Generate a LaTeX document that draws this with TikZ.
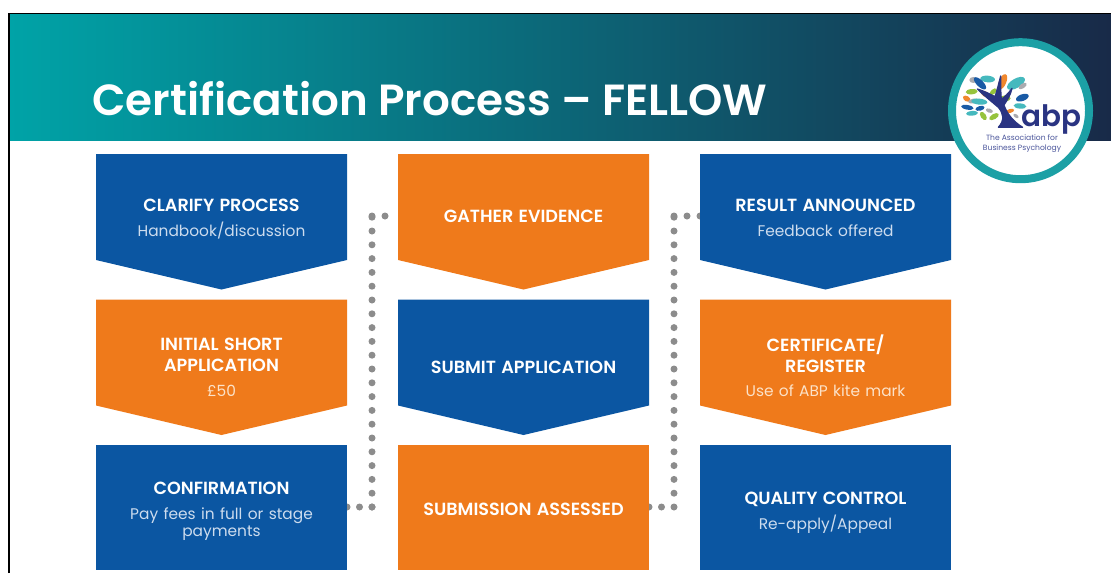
\documentclass[tikz,border=0pt]{standalone}
\usepackage{fontspec}
\setmainfont{Poppins}[BoldFont={Poppins SemiBold}]
\usetikzlibrary{calc}
\definecolor{bluebox}{RGB}{11,86,162}
\definecolor{orangebox}{RGB}{239,122,27}
\definecolor{dotgrey}{RGB}{140,140,140}
\definecolor{subblue}{RGB}{205,220,238}
\definecolor{suborange}{RGB}{252,226,200}
\definecolor{ringteal}{RGB}{28,160,165}
\definecolor{navy}{RGB}{42,52,130}
\definecolor{capblue}{RGB}{75,85,155}
\definecolor{lfteal}{RGB}{70,185,190}
\definecolor{lfblue}{RGB}{25,90,165}
\definecolor{lfgreen}{RGB}{150,195,60}
\definecolor{lforange}{RGB}{240,135,45}
\definecolor{lfgrey}{RGB}{170,170,175}
\pgfdeclarelayer{under}
\pgfsetlayers{under,main}
\newcommand{\hd}[1]{{\fontsize{17.6}{21}\selectfont\bfseries #1}}
\newcommand{\sbb}[1]{{\fontsize{15.4}{21}\selectfont\color{subblue}#1}}
\newcommand{\sbo}[1]{{\fontsize{15.4}{21}\selectfont\color{suborange}#1}}
\tikzset{
  x=1pt,y=-1pt,
  anchorbox/.style={minimum width=251pt,inner sep=0pt,outer sep=0pt},
  lbl/.style={text=white,align=center,inner sep=0pt,text width=245pt,font=\fontsize{16}{21}\selectfont},
  dotline/.style={draw=dotgrey,line width=7pt,line cap=round,dash pattern=on 0pt off #1pt},
}
% name, cx, top, midline y, colour, label y, label
\newcommand{\chev}[7]{%
  \fill[#5] ({#2-125.5},#3) -- ({#2+125.5},#3) -- ({#2+125.5},{#3+106}) -- (#2,{#3+135.5}) -- ({#2-125.5},{#3+106}) -- cycle;
  \node[anchorbox] (#1) at (#2,#4) {};
  \node[lbl] (#1text) at (#2,#6) {#7};
}
\newcommand{\rectb}[7]{%
  \fill[#5] ({#2-125.5},#3) rectangle ({#2+125.5},570);
  \node[anchorbox] (#1) at (#2,#4) {};
  \node[lbl] (#1text) at (#2,#6) {#7};
}
\begin{document}
\begin{tikzpicture}
\useasboundingbox (0,0) rectangle (1111,573);
% slide header
\shade[left color={rgb,255:red,0;green,163;blue,167},middle color={rgb,255:red,12;green,104;blue,120},right color={rgb,255:red,24;green,42;blue,72}] (9,14) rectangle (1111,140);
\draw[black,line width=1.6pt] (9,573) -- (9,13.5) -- (1111,13.5);
\node[text=white,anchor=west,inner sep=0pt] (title) at (92,99) {\fontsize{43.6}{50}\selectfont\bfseries Certification Process – FELLOW};
% boxes
\chev{clarify}{221.5}{154}{216}{bluebox}{219.5}{\hd{CLARIFY PROCESS}\\[4pt]\sbb{Handbook/discussion}}
\chev{initial}{221.5}{299.5}{367}{orangebox}{367}{\hd{INITIAL SHORT}\\\hd{APPLICATION}\\[4pt]\sbo{£50}}
\rectb{confirm}{221.5}{445}{507}{bluebox}{511.5}{\hd{CONFIRMATION}\\[4pt]\sbb{Pay fees in full or stage}\\[-4pt]\sbb{payments}}
\chev{gather}{523.5}{154}{216}{orangebox}{216}{\hd{GATHER EVIDENCE}}
\chev{submit}{523.5}{299.5}{367}{bluebox}{367}{\hd{SUBMIT APPLICATION}}
\rectb{assessed}{523.5}{445}{507}{orangebox}{509}{\hd{SUBMISSION ASSESSED}}
\chev{result}{825.5}{154}{216}{bluebox}{218}{\hd{RESULT ANNOUNCED}\\[4pt]\sbb{Feedback offered}}
\chev{certificate}{825.5}{299.5}{367}{orangebox}{366}{\hd{CERTIFICATE/}\\\hd{REGISTER}\\[3pt]\sbo{Use of ABP kite mark}}
\rectb{quality}{825.5}{445}{507}{bluebox}{513}{\hd{QUALITY CONTROL}\\[4pt]\sbb{Re-apply/Appeal}}
% dotted connectors
\begin{pgfonlayer}{under}
\coordinate (turnA) at ($(confirm.east)+(25,0)$);
\coordinate (turnB) at ($(assessed.east)+(25,0)$);
\draw[dotline=12.5] (confirm.east) -- (turnA);
\draw[dotline=13.8] (turnA) -- (turnA |- gather.west);
\draw[dotline=13] (turnA |- gather.west) -- (gather.west);
\draw[dotline=12.5] (assessed.east) -- (turnB);
\draw[dotline=13.8] (turnB) -- (turnB |- result.west);
\draw[dotline=13] (turnB |- result.west) -- (result.west);
\end{pgfonlayer}
% logo
\fill[white,draw=ringteal,line width=8pt] (1020.5,110.7) circle (68.5);
\begin{scope}[shift={(930,20)},x=0.3333pt,y=-0.3333pt]
\foreach \px/\py/\ang/\la/\lb/\col in {
  130/180/0/12/9/lfgrey,
  173/177/-5/22/10/lfteal,
  150/190/-45/24/10/lfblue,
  218/185/68/24/11/lforange,
  258/190/30/30/14/lfteal,
  278/198/35/14/7/lfgrey,
  277/233/20/20/10/lfblue,
  125/215/5/18/8/lfgreen,
  110/236/-30/12/8/lforange,
  130/243/10/16/7/lfgrey,
  148/245/-5/24/9/lfteal,
  165/222/-30/13/8/lforange,
  190/215/40/13/7/lfgreen,
  226/235/0/16/9/lfgreen,
  270/258/-5/19/8/lfteal,
  112/262/-10/19/7/lfblue,
  150/265/15/14/7/lfblue,
  126/280/5/18/7/lfteal,
  160/288/-55/14/8/lfgreen,
  192/290/30/16/8/lfgreen,
  178/272/-20/11/6/lfgrey,
  240/273/15/13/6/lforange,
  258/288/-35/9/5/lfgrey}
  {\fill[\col,rotate around={\ang:(\px,\py)}] (\px,\py) ellipse ({\la} and {\lb});}
\filldraw[navy,line width=1.2pt,line join=round] (212,168) .. controls (205,195) and (200,215) .. (195,230) .. controls (180,222) and (160,212) .. (142,207) .. controls (160,225) and (185,245) .. (205,262) .. controls (220,280) and (225,300) .. (205,322) -- (278,322) .. controls (250,305) and (230,280) .. (222,255) .. controls (232,240) and (242,225) .. (246,205) .. controls (235,220) and (225,230) .. (214,238) .. controls (212,215) and (212,195) .. (212,168) -- cycle;
\end{scope}
\node[text=navy,inner sep=0pt,anchor=base west] (abp) at (1021,126) {\fontsize{29.5}{32}\selectfont\bfseries abp};
\node[text=capblue,inner sep=0pt,align=center,font=\fontsize{7.6}{9.8}\selectfont] (caption) at (1022,143.5) {The Association for\\Business Psychology};
\end{tikzpicture}
\end{document}
